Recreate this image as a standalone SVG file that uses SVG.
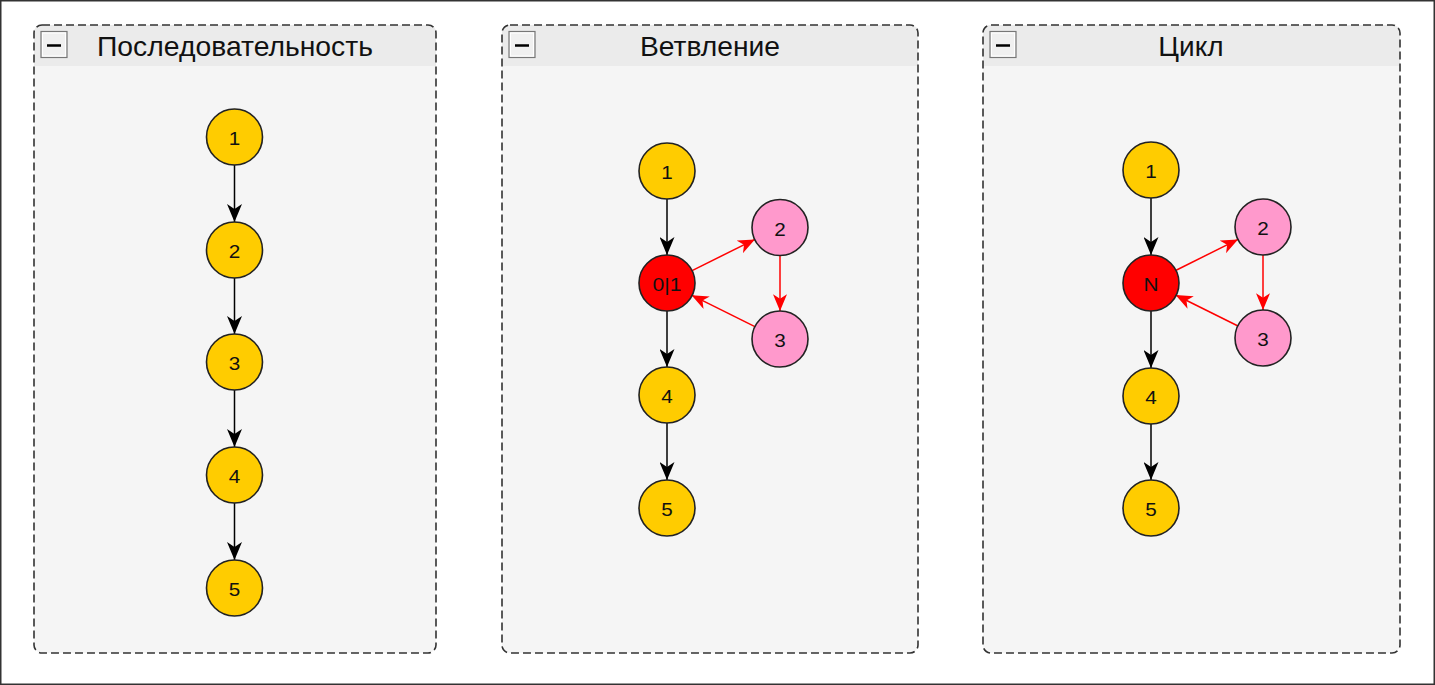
<svg xmlns="http://www.w3.org/2000/svg" width="1435" height="685" viewBox="0 0 1435 685">
<style>
.bg{fill:#ffffff;stroke:#333333;stroke-width:1.5}
.body{fill:#f5f5f5}
.head{fill:#ebebeb}
.frame{fill:none;stroke:#333333;stroke-width:1.6;stroke-dasharray:8 4}
.title{font-family:"Liberation Sans",Arial,sans-serif;font-size:28px;fill:#111111;text-anchor:middle}
.btnO{fill:#f0f0f0;stroke:#777777;stroke-width:1.2}
.btnI{fill:none;stroke:#ffffff;stroke-width:1}
.minus{stroke:#000000;stroke-width:2.5}
.y{fill:#ffcc00;stroke:#222222;stroke-width:1.6}
.p{fill:#ff99cc;stroke:#222222;stroke-width:1.6}
.r{fill:#ff0000;stroke:#222222;stroke-width:1.6}
.lbl{font-family:"Liberation Sans",Arial,sans-serif;font-size:18px;fill:#111111;text-anchor:middle}
.eb{stroke:#000000;stroke-width:1.5;fill:none;marker-end:url(#ab)}
.er{stroke:#ff0000;stroke-width:1.5;fill:none;marker-end:url(#ar)}
</style>
<defs>
<marker id="ab" viewBox="0 0 18 15" refX="18" refY="7.5" markerWidth="18" markerHeight="15" markerUnits="userSpaceOnUse" orient="auto">
<path d="M0,0 L18,7.5 L0,15 L5,7.5 Z" fill="#000000"/>
</marker>
<marker id="ar" viewBox="0 0 18 15" refX="18" refY="7.5" markerWidth="17" markerHeight="14" markerUnits="userSpaceOnUse" orient="auto">
<path d="M0,0 L18,7.5 L0,15 L5,7.5 Z" fill="#ff0000"/>
</marker>
</defs>
<rect class="bg" x="0.75" y="0.75" width="1433.5" height="683.5"/>

<g id="panel-seq">
<rect class="body" x="34" y="25" width="402" height="628" rx="8"/>
<path class="head" d="M34,66 L34,33 Q34,25 42,25 L428,25 Q436,25 436,33 L436,66 Z"/>
<rect class="frame" x="34" y="25" width="402" height="628" rx="8"/>
<rect class="btnO" x="41" y="31.5" width="26" height="26"/>
<rect class="btnI" x="42.5" y="33" width="23" height="23"/>
<line class="minus" x1="47" y1="45.5" x2="61" y2="45.5"/>
<text class="title" x="235" y="56" textLength="276" lengthAdjust="spacingAndGlyphs">Последовательность</text>
</g>
<g id="panel-branch">
<rect class="body" x="502" y="25" width="416" height="628" rx="8"/>
<path class="head" d="M502,66 L502,33 Q502,25 510,25 L910,25 Q918,25 918,33 L918,66 Z"/>
<rect class="frame" x="502" y="25" width="416" height="628" rx="8"/>
<rect class="btnO" x="509" y="31.5" width="26" height="26"/>
<rect class="btnI" x="510.5" y="33" width="23" height="23"/>
<line class="minus" x1="515" y1="45.5" x2="529" y2="45.5"/>
<text class="title" x="710" y="56" textLength="140" lengthAdjust="spacingAndGlyphs">Ветвление</text>
</g>
<g id="panel-loop">
<rect class="body" x="983" y="25" width="417" height="628" rx="8"/>
<path class="head" d="M983,66 L983,33 Q983,25 991,25 L1392,25 Q1400,25 1400,33 L1400,66 Z"/>
<rect class="frame" x="983" y="25" width="417" height="628" rx="8"/>
<rect class="btnO" x="990" y="31.5" width="26" height="26"/>
<rect class="btnI" x="991.5" y="33" width="23" height="23"/>
<line class="minus" x1="996" y1="45.5" x2="1010" y2="45.5"/>
<text class="title" x="1191" y="56">Цикл</text>
</g>

<g id="connectors">
<line class="eb" x1="234.5" y1="165" x2="234.5" y2="222"/>
<line class="eb" x1="234.5" y1="278" x2="234.5" y2="334"/>
<line class="eb" x1="234.5" y1="390" x2="234.5" y2="447"/>
<line class="eb" x1="234.5" y1="503" x2="234.5" y2="560"/>

<line class="eb" x1="667" y1="199" x2="667" y2="255"/>
<line class="eb" x1="667" y1="311" x2="667" y2="367"/>
<line class="eb" x1="667" y1="423" x2="667" y2="480"/>
<line class="er" x1="691.6" y1="270.8" x2="754.9" y2="239.4"/>
<line class="er" x1="780" y1="255.5" x2="780" y2="311"/>
<line class="er" x1="754.9" y1="326.6" x2="691.6" y2="295.2"/>

<line class="eb" x1="1151" y1="198" x2="1151" y2="255"/>
<line class="eb" x1="1151" y1="311" x2="1151" y2="368"/>
<line class="eb" x1="1151" y1="424" x2="1151" y2="480"/>
<line class="er" x1="1175.6" y1="270.5" x2="1238" y2="239.4"/>
<line class="er" x1="1263" y1="255" x2="1263" y2="310"/>
<line class="er" x1="1238" y1="326" x2="1175.6" y2="295"/>
</g>

<g id="s1"><circle class="y" cx="234.5" cy="137" r="28"/><text class="lbl" x="234.5" y="145" textLength="11.5" lengthAdjust="spacingAndGlyphs">1</text></g>
<g id="s2"><circle class="y" cx="234.5" cy="250" r="28"/><text class="lbl" x="234.5" y="258" textLength="11.5" lengthAdjust="spacingAndGlyphs">2</text></g>
<g id="s3"><circle class="y" cx="234.5" cy="362" r="28"/><text class="lbl" x="234.5" y="370" textLength="11.5" lengthAdjust="spacingAndGlyphs">3</text></g>
<g id="s4"><circle class="y" cx="234.5" cy="475" r="28"/><text class="lbl" x="234.5" y="483" textLength="11.5" lengthAdjust="spacingAndGlyphs">4</text></g>
<g id="s5"><circle class="y" cx="234.5" cy="588" r="28"/><text class="lbl" x="234.5" y="596" textLength="11.5" lengthAdjust="spacingAndGlyphs">5</text></g>

<g id="b1"><circle class="y" cx="667" cy="171" r="28"/><text class="lbl" x="667" y="179" textLength="11.5" lengthAdjust="spacingAndGlyphs">1</text></g>
<g id="b01"><circle class="r" cx="667" cy="283" r="28"/><text class="lbl" x="667" y="291" textLength="29" lengthAdjust="spacingAndGlyphs">0|1</text></g>
<g id="b2"><circle class="p" cx="780" cy="227.5" r="28"/><text class="lbl" x="780" y="235.5" textLength="11.5" lengthAdjust="spacingAndGlyphs">2</text></g>
<g id="b3"><circle class="p" cx="780" cy="339" r="28"/><text class="lbl" x="780" y="347" textLength="11.5" lengthAdjust="spacingAndGlyphs">3</text></g>
<g id="b4"><circle class="y" cx="667" cy="395" r="28"/><text class="lbl" x="667" y="403" textLength="11.5" lengthAdjust="spacingAndGlyphs">4</text></g>
<g id="b5"><circle class="y" cx="667" cy="508" r="28"/><text class="lbl" x="667" y="516" textLength="11.5" lengthAdjust="spacingAndGlyphs">5</text></g>

<g id="c1"><circle class="y" cx="1151" cy="170" r="28"/><text class="lbl" x="1151" y="178" textLength="11.5" lengthAdjust="spacingAndGlyphs">1</text></g>
<g id="cN"><circle class="r" cx="1151" cy="283" r="28"/><text class="lbl" x="1151" y="291" textLength="15" lengthAdjust="spacingAndGlyphs">N</text></g>
<g id="c2"><circle class="p" cx="1263" cy="227" r="28"/><text class="lbl" x="1263" y="235" textLength="11.5" lengthAdjust="spacingAndGlyphs">2</text></g>
<g id="c3"><circle class="p" cx="1263" cy="338" r="28"/><text class="lbl" x="1263" y="346" textLength="11.5" lengthAdjust="spacingAndGlyphs">3</text></g>
<g id="c4"><circle class="y" cx="1151" cy="396" r="28"/><text class="lbl" x="1151" y="404" textLength="11.5" lengthAdjust="spacingAndGlyphs">4</text></g>
<g id="c5"><circle class="y" cx="1151" cy="508" r="28"/><text class="lbl" x="1151" y="516" textLength="11.5" lengthAdjust="spacingAndGlyphs">5</text></g>
</svg>
